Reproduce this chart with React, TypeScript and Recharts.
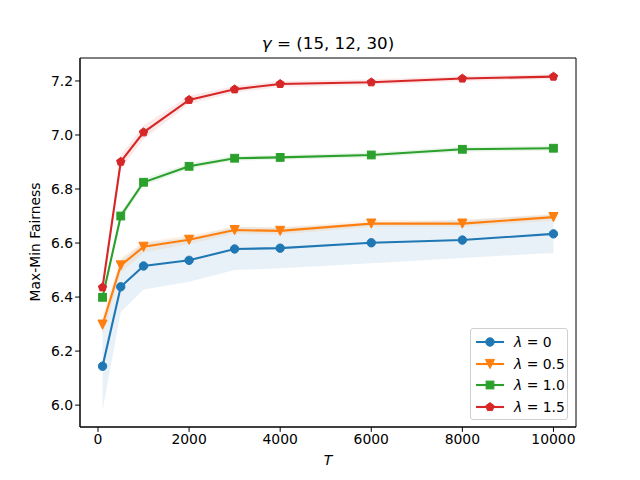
import React from 'react';
import { ComposedChart, Line, Area, XAxis, YAxis, ReferenceArea, Legend } from 'recharts';

const T = [100, 500, 1000, 2000, 3000, 4000, 6000, 8000, 10000];
const mean0 = [6.144, 6.438, 6.515, 6.536, 6.578, 6.581, 6.601, 6.611, 6.634];
const lo0 = [5.98, 6.345, 6.428, 6.457, 6.5, 6.507, 6.525, 6.545, 6.563];
const hi0 = [6.3, 6.535, 6.6, 6.62, 6.66, 6.657, 6.675, 6.685, 6.705];
const mean05 = [6.298, 6.517, 6.586, 6.612, 6.648, 6.645, 6.672, 6.672, 6.696];
const lo05 = [6.26, 6.49, 6.565, 6.596, 6.635, 6.632, 6.66, 6.66, 6.683];
const hi05 = [6.33, 6.545, 6.605, 6.628, 6.661, 6.658, 6.684, 6.684, 6.709];
const mean10 = [6.399, 6.7, 6.825, 6.884, 6.914, 6.917, 6.926, 6.947, 6.951];
const lo10 = [6.385, 6.685, 6.812, 6.874, 6.905, 6.908, 6.917, 6.938, 6.942];
const hi10 = [6.413, 6.715, 6.838, 6.894, 6.923, 6.926, 6.935, 6.956, 6.96];
const mean15 = [6.436, 6.901, 7.01, 7.13, 7.169, 7.189, 7.195, 7.209, 7.216];
const lo15 = [6.42, 6.875, 6.985, 7.115, 7.157, 7.178, 7.185, 7.2, 7.207];
const hi15 = [6.452, 6.925, 7.035, 7.145, 7.181, 7.2, 7.205, 7.218, 7.225];

const xTicks = [0, 2000, 4000, 6000, 8000, 10000];
const yTicks = [6.0, 6.2, 6.4, 6.6, 6.8, 7.0, 7.2];
const labels = ['0', '0.5', '1.0', '1.5'];
const colors = ['#1f77b4', '#ff7f0e', '#2ca02c', '#d62728'];

const XMIN = -395;
const XMAX = 10495;
const YMIN = 5.919;
const YMAX = 7.285;

const data = T.map((t, i) => ({
  t,
  m0: mean0[i], b0: [lo0[i], hi0[i]],
  m1: mean05[i], b1: [lo05[i], hi05[i]],
  m2: mean10[i], b2: [lo10[i], hi10[i]],
  m3: mean15[i], b3: [lo15[i], hi15[i]],
}));

function marker(kind: number, cx: number, cy: number, color: string, key?: any) {
  if (kind === 0) return <circle key={key} cx={cx} cy={cy} r={4.2} fill={color} stroke={color} strokeWidth={1} />;
  if (kind === 1) {
    const s = 4.6;
    return <polygon key={key} points={`${cx - s},${cy - s} ${cx + s},${cy - s} ${cx},${cy + s}`} fill={color} stroke={color} strokeWidth={1} />;
  }
  if (kind === 2) {
    const s = 3.9;
    return <rect key={key} x={cx - s} y={cy - s} width={2 * s} height={2 * s} fill={color} stroke={color} strokeWidth={1} />;
  }
  const r = 4.4;
  const pts = [0, 1, 2, 3, 4].map((k) => {
    const a = -Math.PI / 2 + (k * 2 * Math.PI) / 5;
    return `${cx + r * Math.cos(a)},${cy + r * Math.sin(a)}`;
  }).join(' ');
  return <polygon key={key} points={pts} fill={color} stroke={color} strokeWidth={1} />;
}

const makeDot = (kind: number) => (props: any) => {
  const { cx, cy, index } = props;
  if (cx == null || cy == null) return <g key={`d${kind}-${index}`} />;
  return marker(kind, cx, cy, colors[kind], `d${kind}-${index}`);
};

const LegendBox = () => (
  <div style={{
    position: 'absolute', left: 470, top: 328, width: 98, height: 92,
    border: '1px solid #d0d0d0', borderRadius: 3, background: 'rgba(255,255,255,0.8)',
    boxSizing: 'border-box', fontFamily: 'DejaVu Sans', fontSize: 13.9,
  }}>
    {labels.map((l, i) => (
      <div key={l} style={{ position: 'absolute', left: 4, top: 3 + i * 21.5, height: 20, display: 'flex', alignItems: 'center' }}>
        <svg width={30} height={20}>
          <line x1={1} y1={10} x2={29} y2={10} stroke={colors[i]} strokeWidth={2.1} />
          {marker(i, 15, 10, colors[i])}
        </svg>
        <span style={{ marginLeft: 9, whiteSpace: 'nowrap' }}>
          <i style={{ fontFamily: 'DejaVu Sans' }}>λ</i> = {l}
        </span>
      </div>
    ))}
  </div>
);

export default function App() {
  return (
    <div style={{ position: 'absolute', left: 0, top: 0, width: 640, height: 480, background: '#fff' }}>
      <ComposedChart width={640} height={480} data={data} margin={{ top: 58, right: 64, bottom: 0, left: 0 }}>
        <XAxis dataKey="t" type="number" domain={[XMIN, XMAX]} ticks={xTicks} allowDataOverflow
          height={53} stroke="#000" tickLine={{ stroke: '#000' }} tickSize={4.9}
          tick={{ fill: '#000', fontSize: 13.9, fontFamily: 'DejaVu Sans' }} />
        <YAxis type="number" domain={[YMIN, YMAX]} ticks={yTicks} allowDataOverflow width={80}
          stroke="#000" tickLine={{ stroke: '#000' }} tickSize={4.9}
          tickFormatter={(v: number) => v.toFixed(1)}
          tick={{ fill: '#000', fontSize: 13.9, fontFamily: 'DejaVu Sans' }} />
        {[0, 1, 2, 3].map((k) => (
          <Area key={`a${k}`} dataKey={`b${k}`} type="linear" stroke="none" fill={colors[k]} fillOpacity={0.1}
            isAnimationActive={false} activeDot={false} dot={false} legendType="none" />
        ))}
        {[0, 1, 2, 3].map((k) => (
          <Line key={`l${k}`} dataKey={`m${k}`} type="linear" stroke={colors[k]} strokeWidth={2.1}
            dot={makeDot(k)} activeDot={false} isAnimationActive={false} />
        ))}
        <ReferenceArea x1={XMIN} x2={XMAX} y1={YMIN} y2={YMAX} fill="none" stroke="#000" strokeWidth={1} ifOverflow="visible" />
      </ComposedChart>
      <div style={{ position: 'absolute', left: 0, width: 656, top: 33, textAlign: 'center', fontFamily: 'DejaVu Sans', fontSize: 16.7, whiteSpace: 'nowrap' }}>
        <i>γ</i> = (15, 12, 30)
      </div>
      <div style={{ position: 'absolute', left: 0, width: 656, top: 452, textAlign: 'center', fontFamily: 'DejaVu Sans', fontSize: 13.9, fontStyle: 'italic' }}>
        T
      </div>
      <div style={{ position: 'absolute', left: 35, top: 242, transform: 'translate(-50%, -50%) rotate(-90deg)', fontFamily: 'DejaVu Sans', fontSize: 13.9, whiteSpace: 'nowrap' }}>
        Max-Min Fairness
      </div>
      <LegendBox />
    </div>
  );
}
